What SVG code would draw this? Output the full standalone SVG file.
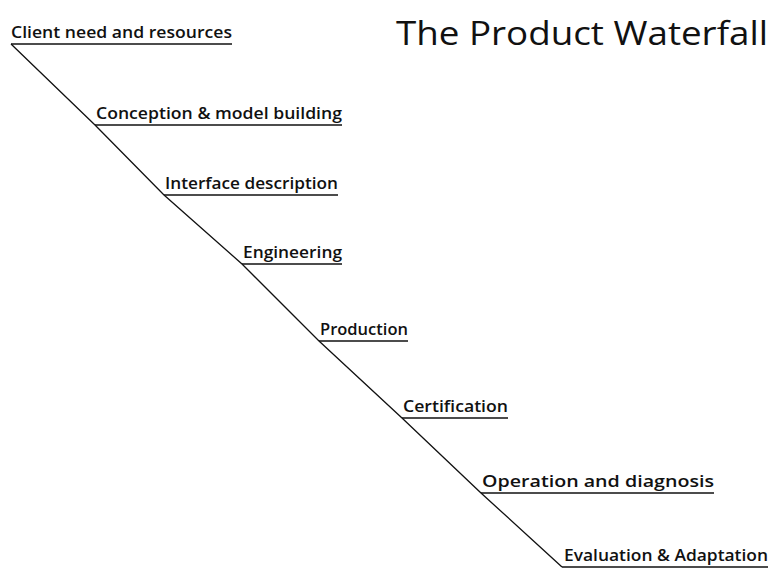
<svg xmlns="http://www.w3.org/2000/svg" width="773" height="573" viewBox="0 0 773 573">
<style>
.lbl{font-family:"Open Sans","Liberation Sans",sans-serif;font-size:16.5px;font-weight:600;fill:#111}
.ul{stroke:#111;stroke-width:1.5}
.title{font-family:"Open Sans","Liberation Sans",sans-serif;font-size:33px;fill:#111}
</style>
<rect width="773" height="573" fill="#fff"/>
<g id="connectors">
<polyline points="11,44 95,125 164,195 242,264 319,341 402,418 481,493 562,567" fill="none" stroke="#111" stroke-width="1.3"/>
</g>
<g id="title"><text class="title" x="396" y="45" textLength="372" lengthAdjust="spacingAndGlyphs">The Product Waterfall</text></g>
<g id="n1"><text class="lbl" x="11" y="38" textLength="221" lengthAdjust="spacingAndGlyphs">Client need and resources</text><line class="ul" x1="11" y1="44" x2="232" y2="44"/></g>
<g id="n2"><text class="lbl" x="96" y="119" textLength="246" lengthAdjust="spacingAndGlyphs">Conception &amp; model building</text><line class="ul" x1="95" y1="125" x2="342" y2="125"/></g>
<g id="n3"><text class="lbl" x="165" y="189" textLength="173" lengthAdjust="spacingAndGlyphs">Interface description</text><line class="ul" x1="164" y1="195" x2="338" y2="195"/></g>
<g id="n4"><text class="lbl" x="243" y="258" textLength="99" lengthAdjust="spacingAndGlyphs">Engineering</text><line class="ul" x1="242" y1="264" x2="342" y2="264"/></g>
<g id="n5"><text class="lbl" x="320" y="335" textLength="88" lengthAdjust="spacingAndGlyphs">Production</text><line class="ul" x1="319" y1="341" x2="408" y2="341"/></g>
<g id="n6"><text class="lbl" x="403" y="412" textLength="105" lengthAdjust="spacingAndGlyphs">Certification</text><line class="ul" x1="402" y1="418" x2="508" y2="418"/></g>
<g id="n7"><text class="lbl" x="482" y="487" textLength="232" lengthAdjust="spacingAndGlyphs">Operation and diagnosis</text><line class="ul" x1="481" y1="493" x2="714" y2="493"/></g>
<g id="n8"><text class="lbl" x="564" y="561" textLength="204" lengthAdjust="spacingAndGlyphs">Evaluation &amp; Adaptation</text><line class="ul" x1="562" y1="567" x2="768" y2="567"/></g>
</svg>
